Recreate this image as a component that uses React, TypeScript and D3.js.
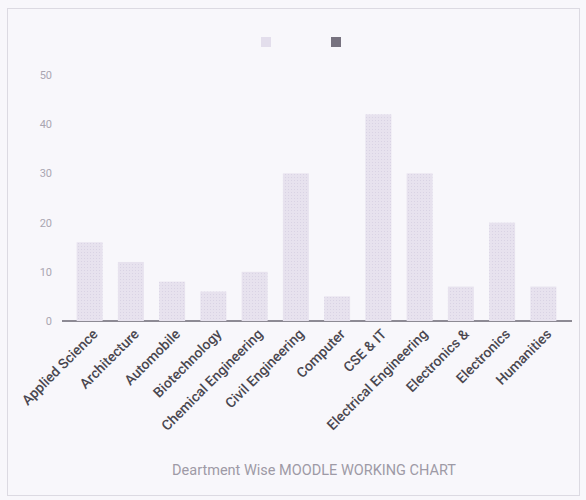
import React from "react";
import * as d3 from "d3";

const categories = [
  "Applied Science",
  "Architecture",
  "Automobile",
  "Biotechnology",
  "Chemical Engineering",
  "Civil Engineering",
  "Computer",
  "CSE & IT",
  "Electrical Engineering",
  "Electronics &",
  "Electronics",
  "Humanities",
];
const seriesA = [16, 12, 8, 6, 10, 30, 5, 42, 30, 7, 20, 7];
const seriesB = [0, 0, 0, 0, 0, 0, 0, 0, 0, 0, 0, 0];
const yTicks = [0, 10, 20, 30, 40, 50];
const title = "Deartment Wise MOODLE WORKING CHART";

export default function App() {
  const W = 586;
  const H = 500;
  const x = d3.scaleBand<string>().domain(categories).range([69, 564]).paddingInner(0.37).paddingOuter(0.185);
  const y = d3.scaleLinear().domain([0, 50]).range([321, 75]);
  const bw = x.bandwidth();

  return (
    <svg
      width={W}
      height={H}
      style={{ position: "absolute", left: 0, top: 0, display: "block" }}
      fontFamily="Roboto, 'Noto Sans', sans-serif"
    >
      <defs>
        <pattern id="dots" width="3" height="3" patternUnits="userSpaceOnUse">
          <rect width="3" height="3" fill="#e7e2ee" />
          <rect width="1" height="1" fill="#d9d3e4" />
        </pattern>
      </defs>
      <rect x={0} y={0} width={W} height={H} fill="#f8f7fb" />
      <rect x={7.5} y={8.5} width={572} height={487} fill="none" stroke="#dcdae2" strokeWidth={1} />

      {/* legend */}
      <rect x={261} y={37} width={10} height={10} fill="#e3deec" />
      <rect x={331} y={37} width={10} height={10} fill="#77727f" />

      {/* y axis labels */}
      {yTicks.map((t) => (
        <text key={t} x={52} y={y(t) + 4} textAnchor="end" fontSize={11} fill="#aaa6b2">
          {t}
        </text>
      ))}

      {/* zero baseline */}
      <line x1={62} x2={572} y1={y(0)} y2={y(0)} stroke="#6a6672" strokeWidth={1.5} />

      {/* bars */}
      {categories.map((c, i) => (
        <rect
          key={c}
          x={x(c)}
          y={y(seriesA[i])}
          width={bw}
          height={y(0) - y(seriesA[i])}
          fill="url(#dots)"
        />
      ))}
      {categories.map((c, i) =>
        seriesB[i] > 0 ? (
          <rect
            key={c + "b"}
            x={(x(c) as number) + bw}
            y={y(seriesB[i])}
            width={bw / 2}
            height={y(0) - y(seriesB[i])}
            fill="#77727f"
          />
        ) : null
      )}

      {/* category labels */}
      {categories.map((c) => {
        const cx = (x(c) as number) + bw / 2 + 9;
        const cy = 335;
        return (
          <text
            key={c + "l"}
            transform={`translate(${cx},${cy}) rotate(-45)`}
            textAnchor="end"
            fontSize={14}
            fontWeight={500}
            fill="#4a4750"
          >
            {c}
          </text>
        );
      })}

      {/* title */}
      <text x={314} y={475} textAnchor="middle" fontSize={14.5} fill="#9e9aa6">
        {title}
      </text>
    </svg>
  );
}
